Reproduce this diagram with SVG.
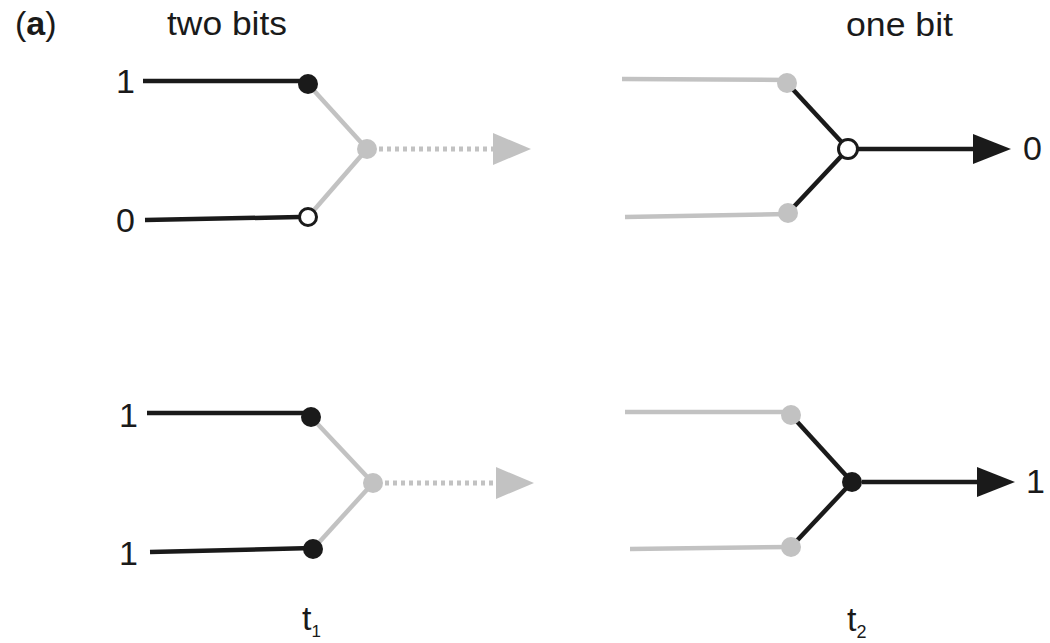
<svg xmlns="http://www.w3.org/2000/svg" width="1050" height="643" viewBox="0 0 1050 643">
<style>
text{font-family:"Liberation Sans",Arial,sans-serif;fill:#1a1a1a;font-size:34px}
.blk{stroke:#1a1a1a;stroke-width:4.5;fill:none}
.gry{stroke:#c2c2c2;stroke-width:4.5;fill:none}
.dot{stroke:#c2c2c2;stroke-width:5;stroke-dasharray:4 4;fill:none}
.nb{fill:#1a1a1a}
.ng{fill:#c2c2c2}
.no{fill:#fff;stroke:#1a1a1a;stroke-width:3}
.ahb{fill:#1a1a1a}
.ahg{fill:#c2c2c2}
</style>
<defs>
<marker id="mb" markerUnits="userSpaceOnUse" markerWidth="40" markerHeight="32" refX="12" refY="15" orient="auto"><path d="M0,0 L38,15 L0,30 z" class="ahb"/></marker>
<marker id="mg" markerUnits="userSpaceOnUse" markerWidth="40" markerHeight="34" refX="2" refY="16" orient="auto"><path d="M0,0 L38,16 L0,32 z" class="ahg"/></marker>
</defs>
<g id="labels">
<text x="15" y="35">(<tspan font-weight="bold">a</tspan>)</text>
<text x="167" y="35" textLength="120" lengthAdjust="spacingAndGlyphs">two bits</text>
<text x="846" y="36" textLength="107" lengthAdjust="spacingAndGlyphs">one bit</text>
<text x="302" y="630">t<tspan font-size="17" dy="7">1</tspan></text>
<text x="847" y="631">t<tspan font-size="18" dy="7">2</tspan></text>
</g>
<g id="connectors">
<line class="blk" x1="143" y1="81" x2="308" y2="81"/>
<line class="blk" x1="145" y1="220" x2="300" y2="217"/>
<line class="gry" x1="308" y1="84" x2="367" y2="149"/>
<line class="gry" x1="308" y1="217" x2="367" y2="149"/>
<line class="dot" x1="379" y1="149" x2="495" y2="149" marker-end="url(#mg)"/>
<line class="gry" x1="622" y1="79" x2="787" y2="80"/>
<line class="gry" x1="625" y1="217" x2="788" y2="214"/>
<line class="blk" x1="787" y1="83" x2="848" y2="149"/>
<line class="blk" x1="788" y1="213" x2="848" y2="149"/>
<line class="blk" x1="858" y1="149" x2="985" y2="149" marker-end="url(#mb)"/>
<line class="blk" x1="147" y1="413" x2="311" y2="413"/>
<line class="blk" x1="150" y1="552" x2="313" y2="548"/>
<line class="gry" x1="311" y1="417" x2="373" y2="483"/>
<line class="gry" x1="313" y1="549" x2="373" y2="483"/>
<line class="dot" x1="385" y1="483" x2="498" y2="483" marker-end="url(#mg)"/>
<line class="gry" x1="625" y1="412" x2="791" y2="412"/>
<line class="gry" x1="630" y1="549" x2="791" y2="547"/>
<line class="blk" x1="791" y1="415" x2="852" y2="482"/>
<line class="blk" x1="791" y1="547" x2="852" y2="482"/>
<line class="blk" x1="862" y1="482" x2="989" y2="482" marker-end="url(#mb)"/>
</g>
<g id="top-left">
<text x="116" y="93">1</text>
<text x="116" y="232">0</text>
<circle class="nb" cx="308" cy="84" r="10"/>
<circle class="no" cx="308" cy="217" r="8.5"/>
<circle class="ng" cx="367" cy="149" r="10"/>
</g>
<g id="top-right">
<circle class="ng" cx="787" cy="83" r="10"/>
<circle class="ng" cx="788" cy="213" r="10"/>
<circle class="no" cx="848" cy="149" r="9.5"/>
<text x="1023" y="160">0</text>
</g>
<g id="bottom-left">
<text x="119" y="427">1</text>
<text x="119" y="565">1</text>
<circle class="nb" cx="311" cy="417" r="10"/>
<circle class="nb" cx="313" cy="549" r="10"/>
<circle class="ng" cx="373" cy="483" r="10"/>
</g>
<g id="bottom-right">
<circle class="ng" cx="791" cy="415" r="10"/>
<circle class="ng" cx="791" cy="547" r="10"/>
<circle class="nb" cx="852" cy="482" r="10"/>
<text x="1026" y="493">1</text>
</g>
</svg>
